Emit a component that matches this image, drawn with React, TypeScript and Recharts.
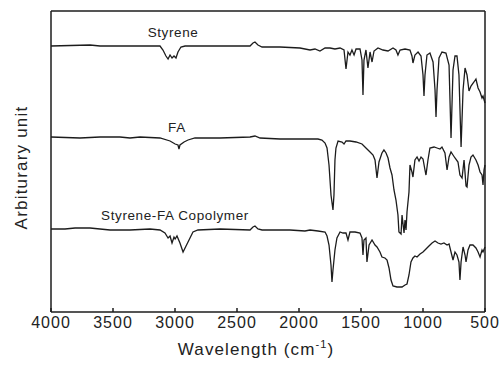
import React from "react";
import {
  LineChart,
  Line,
  XAxis,
  YAxis,
  ReferenceDot,
  ReferenceLine,
} from "recharts";

// wavenumber (cm-1) and offset intensity
const styreneWave = [4000, 3685, 3605, 3121, 3097, 3073, 3056, 3040, 3024, 3008, 2992, 2976, 2952, 2919, 2395, 2371, 2355, 2331, 2298, 2153, 1992, 1911, 1871, 1831, 1790, 1750, 1710, 1669, 1637, 1621, 1605, 1589, 1573, 1556, 1540, 1508, 1492, 1484, 1476, 1460, 1444, 1427, 1411, 1395, 1363, 1323, 1282, 1242, 1218, 1202, 1185, 1145, 1105, 1089, 1081, 1065, 1040, 1016, 1000, 992, 984, 968, 944, 919, 903, 895, 887, 871, 847, 815, 790, 774, 758, 742, 726, 710, 693, 677, 661, 645, 629, 613, 589, 573, 556, 540, 524, 516, 500];
const styreneVal = [266, 267, 266, 266, 262, 256, 253, 257, 254, 256, 254, 260, 265, 266, 266, 269, 270, 267, 265, 265, 264, 262, 263, 261, 264, 264, 263, 264, 262, 243, 260, 257, 262, 257, 263, 263, 252, 217, 252, 262, 244, 260, 250, 261, 264, 262, 261, 264, 262, 257, 262, 263, 262, 256, 249, 257, 260, 256, 237, 216, 237, 257, 259, 250, 222, 195, 222, 254, 260, 259, 247, 174, 242, 256, 256, 237, 165, 222, 244, 237, 221, 226, 230, 233, 224, 220, 214, 216, 209];

const faWave = [4000, 3766, 3605, 3444, 3363, 3282, 3121, 3040, 2999, 2976, 2968, 2960, 2927, 2895, 2839, 2637, 2395, 2355, 2314, 2153, 1992, 1847, 1815, 1790, 1774, 1758, 1742, 1726, 1718, 1710, 1702, 1685, 1653, 1637, 1621, 1589, 1540, 1492, 1460, 1427, 1403, 1387, 1371, 1355, 1331, 1315, 1298, 1282, 1266, 1250, 1234, 1218, 1202, 1194, 1177, 1169, 1161, 1153, 1145, 1137, 1129, 1113, 1105, 1089, 1081, 1065, 1048, 1032, 1016, 1000, 984, 976, 960, 944, 911, 887, 863, 847, 823, 806, 790, 774, 758, 742, 718, 702, 685, 669, 653, 645, 629, 613, 597, 573, 556, 540, 524, 516, 508, 500];
const faVal = [175, 174, 175, 175, 174, 175, 174, 171, 168, 167, 163, 167, 170, 172, 174, 174, 175, 176, 174, 173, 173, 173, 172, 169, 164, 147, 117, 102, 117, 152, 164, 171, 170, 168, 171, 171, 170, 168, 164, 160, 157, 152, 134, 150, 159, 162, 159, 154, 144, 137, 122, 112, 97, 80, 78, 97, 88, 79, 92, 82, 100, 120, 147, 140, 135, 152, 155, 151, 155, 153, 142, 137, 152, 164, 165, 164, 163, 165, 159, 142, 155, 160, 157, 154, 150, 137, 134, 152, 126, 125, 147, 155, 157, 152, 147, 140, 137, 127, 142, 147];

const copoWave = [4000, 3887, 3806, 3685, 3605, 3524, 3363, 3202, 3121, 3081, 3056, 3040, 3024, 3008, 2999, 2984, 2960, 2935, 2911, 2895, 2879, 2855, 2815, 2637, 2395, 2371, 2355, 2331, 2298, 2073, 1952, 1911, 1847, 1790, 1774, 1758, 1742, 1734, 1726, 1710, 1694, 1669, 1645, 1621, 1605, 1589, 1548, 1508, 1492, 1484, 1476, 1460, 1452, 1435, 1411, 1387, 1371, 1347, 1331, 1307, 1290, 1274, 1258, 1242, 1210, 1169, 1145, 1129, 1113, 1097, 1081, 1065, 1048, 1024, 1000, 976, 952, 927, 903, 879, 855, 831, 806, 790, 774, 758, 742, 726, 710, 702, 693, 677, 661, 653, 637, 621, 597, 573, 556, 540, 524, 516, 500];
const copoVal = [83, 83, 84, 84, 83, 82, 82, 83, 82, 79, 74, 76, 69, 75, 73, 76, 69, 60, 66, 70, 74, 80, 82, 83, 82, 85, 86, 83, 82, 82, 81, 82, 81, 80, 76, 67, 47, 30, 42, 62, 74, 80, 79, 79, 72, 80, 80, 79, 74, 57, 72, 74, 50, 67, 72, 67, 65, 60, 55, 54, 52, 44, 32, 26, 25, 25, 27, 28, 37, 50, 54, 56, 55, 58, 60, 63, 66, 69, 71, 69, 68, 69, 67, 68, 60, 52, 60, 57, 50, 32, 50, 65, 57, 50, 62, 67, 67, 64, 60, 55, 62, 60, 65];

const xTicks = [4000, 3500, 3000, 2500, 2000, 1500, 1000, 500];

const toPoints = (w: number[], v: number[]) => w.map((x, i) => ({ x, y: v[i] }));
const styrene = toPoints(styreneWave, styreneVal);
const fa = toPoints(faWave, faVal);
const copolymer = toPoints(copoWave, copoVal);

const INK = "#1c1c1c";
const FONT = "'Liberation Sans', Arial, sans-serif";

const seriesLabel = (value: string) => ({
  value,
  position: "center" as const,
  fill: "#222",
  fontSize: 13.5,
  fontFamily: FONT,
  letterSpacing: 0.6,
});

const App: React.FC = () => {
  return (
    <div style={{ position: "absolute", left: 0, top: 0, background: "#fff" }}>
      <LineChart
        width={502}
        height={370}
        margin={{ top: 11, right: 17, bottom: 0, left: 0 }}
      >
        <XAxis
          dataKey="x"
          type="number"
          domain={[500, 4000]}
          reversed
          ticks={xTicks}
          height={58}
          stroke={INK}
          strokeWidth={1.5}
          tickSize={-4}
          tickMargin={9}
          tick={{ fill: "#222", fontSize: 16, fontFamily: FONT, letterSpacing: 1 }}
          label={({ viewBox }: any) => (
            <text
              x={viewBox.x + viewBox.width / 2 - 12}
              y={viewBox.y + 43}
              textAnchor="middle"
              fill="#222"
              fontSize={17}
              fontFamily={FONT}
              letterSpacing={1.1}
            >
              Wavelength (cm
              <tspan dy={-7} fontSize={11}>-1</tspan>
              <tspan dy={7}>)</tspan>
            </text>
          )}
        />
        <YAxis
          type="number"
          domain={[0, 301]}
          ticks={[82, 175]}
          width={51}
          tick={false}
          tickSize={-5}
          stroke={INK}
          strokeWidth={1.5}
          label={({ viewBox }: any) => {
            const cx = viewBox.x + 21;
            const cy = viewBox.y + viewBox.height / 2 + 6;
            return (
              <text
                x={cx}
                y={cy}
                transform={`rotate(-90 ${cx} ${cy})`}
                textAnchor="middle"
                dominantBaseline="central"
                fill="#222"
                fontSize={17}
                fontFamily={FONT}
                letterSpacing={1.2}
              >
                Arbiturary unit
              </text>
            );
          }}
        />
        {/* frame: top and right edges */}
        <ReferenceLine y={301} stroke={INK} strokeWidth={1.5} />
        <ReferenceLine x={500} stroke={INK} strokeWidth={1.5} />
        <Line data={styrene} dataKey="y" type="linear" stroke={INK} strokeWidth={1.3} dot={false} isAnimationActive={false} />
        <Line data={fa} dataKey="y" type="linear" stroke={INK} strokeWidth={1.3} dot={false} isAnimationActive={false} />
        <Line data={copolymer} dataKey="y" type="linear" stroke={INK} strokeWidth={1.3} dot={false} isAnimationActive={false} />
        <ReferenceDot x={3016} y={280} r={0} fill="none" stroke="none" label={seriesLabel("Styrene")} />
        <ReferenceDot x={2984} y={185} r={0} fill="none" stroke="none" label={seriesLabel("FA")} />
        <ReferenceDot x={3000} y={97} r={0} fill="none" stroke="none" label={seriesLabel("Styrene-FA Copolymer")} />
      </LineChart>
    </div>
  );
};

export default App;
